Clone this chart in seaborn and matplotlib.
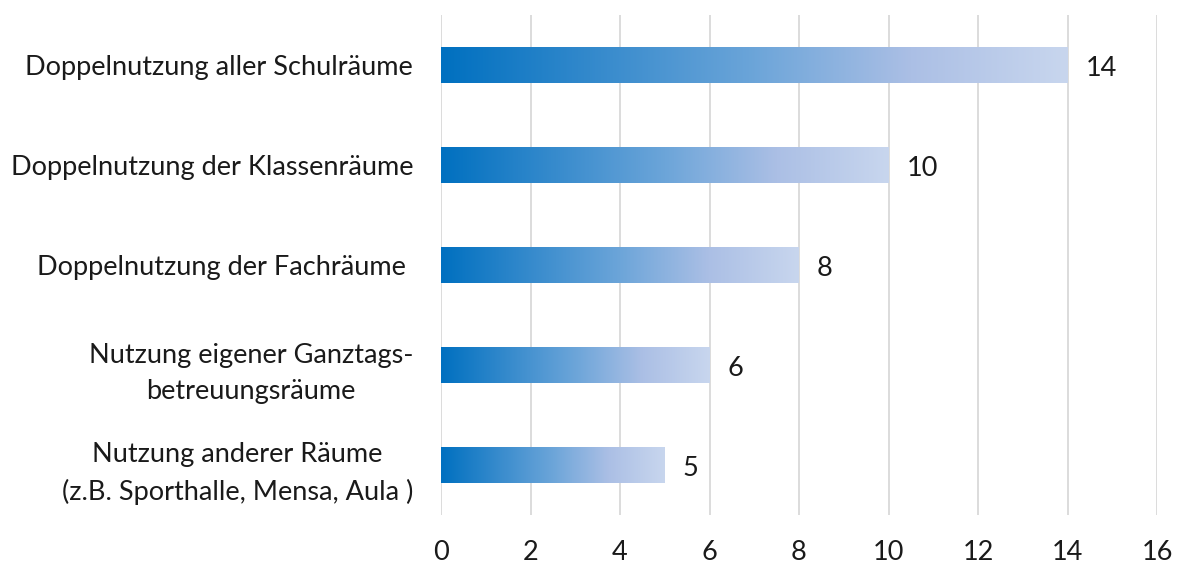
import numpy as np
import pandas as pd
import matplotlib
matplotlib.use("Agg")
import matplotlib.pyplot as plt
import seaborn as sns
from matplotlib.colors import LinearSegmentedColormap

categories = [
    "Doppelnutzung aller Schulräume",
    "Doppelnutzung der Klassenräume",
    "Doppelnutzung der Fachräume ",
    "Nutzung eigener Ganztags-\nbetreuungsräume",
    "Nutzung anderer Räume\n(z.B. Sporthalle, Mensa, Aula )",
]
values = [14, 10, 8, 6, 5]
xticks = [0, 2, 4, 6, 8, 10, 12, 14, 16]

sns.set_theme(style="white")
plt.rcParams["font.family"] = ["Lato", "DejaVu Sans"]

df = pd.DataFrame({"cat": categories, "val": values})

fig = plt.figure(figsize=(11.8, 5.65), dpi=100)
ax = fig.add_axes([441 / 1180, 50 / 565, 716 / 1180, 500 / 565])

sns.barplot(data=df, x="val", y="cat", orient="h", width=0.36, ax=ax,
            color="#0070C0", saturation=1)

cmap = LinearSegmentedColormap.from_list(
    "grad", [(0.0, "#0070C0"), (0.5, "#6CA5D9"), (0.75, "#ABBFE5"), (1.0, "#C8D6EE")])
grad = np.linspace(0, 1, 256).reshape(1, -1)
for p in ax.patches:
    x0, y0 = p.get_x(), p.get_y()
    w, h = p.get_width(), p.get_height()
    p.set_facecolor("none")
    p.set_edgecolor("none")
    im = ax.imshow(grad, cmap=cmap, aspect="auto", extent=[x0, x0 + w, y0 + h, y0],
                   zorder=2, interpolation="bicubic")
    im.set_clip_path(p)

fs = 19.5
for i, v in enumerate(values):
    ax.text(v + 0.4, i + 0.04, str(v), va="center", ha="left", fontsize=fs, color="#1a1a1a")

ax.set_xlim(0, 16)
ax.set_ylim(4.5, -0.5)
ax.set_xticks(xticks)
ax.set_xticklabels([str(t) for t in xticks])
ax.grid(axis="x", color="#D9D9D9", linewidth=1.3)
ax.grid(axis="y", visible=False)
ax.set_axisbelow(True)
for s in ax.spines.values():
    s.set_visible(False)
ax.set_xlabel("")
ax.set_ylabel("")
ax.tick_params(axis="x", length=0, pad=18, labelsize=fs, labelcolor="#1a1a1a")
ax.tick_params(axis="y", length=0, pad=20, labelsize=fs, labelcolor="#1a1a1a")
for lab in ax.get_yticklabels():
    lab.set_multialignment("center")
    lab.set_linespacing(1.55)

fig.savefig("out.png", dpi=100)
